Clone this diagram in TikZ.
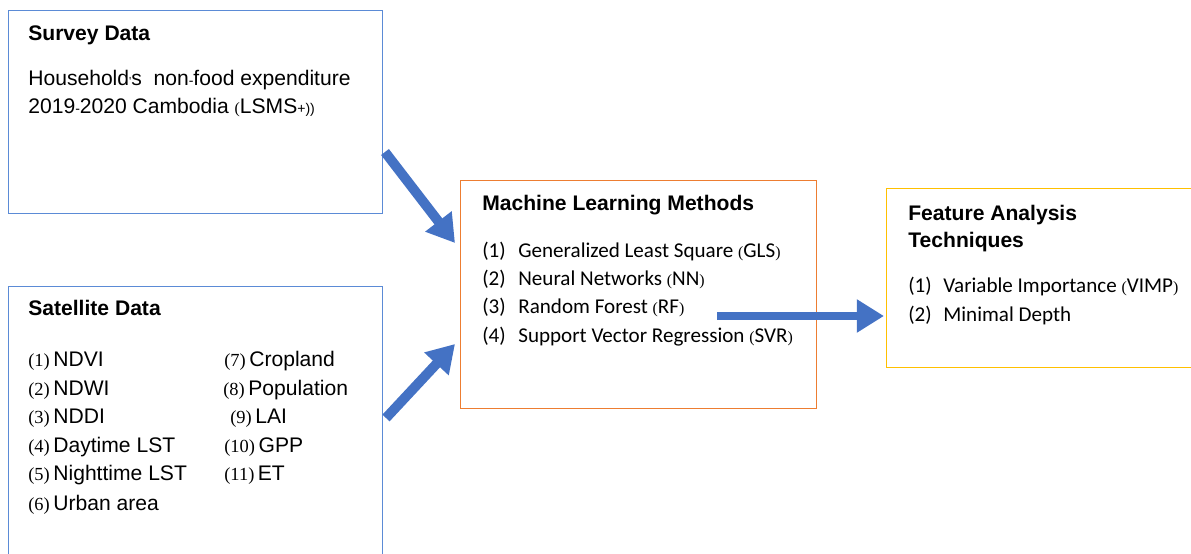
\documentclass[tikz,border=0pt]{standalone}
\usepackage{fontspec}
\setmainfont{Liberation Sans}
\newfontfamily\calibri{Carlito}
\newfontfamily\timesf{Liberation Serif}
\usetikzlibrary{arrows.meta,positioning}

\definecolor{boxblue}{HTML}{5B8BD6}
\definecolor{arrowblue}{HTML}{4472C4}
\definecolor{mlorange}{HTML}{ED7D31}
\definecolor{fayellow}{HTML}{FFC000}

\tikzset{
	panel/.style={draw=#1, line width=0.75pt, anchor=north west, inner sep=0pt},
	title/.style={anchor=base west, inner sep=0pt, font=\bfseries\fontsize{12}{14}\selectfont},
	body/.style={anchor=base west, inner sep=0pt, font=\fontsize{12}{14}\selectfont},
	item/.style={anchor=base west, inner sep=0pt, font=\calibri\fontsize{12}{14}\selectfont},
	bigarrow/.style={arrowblue, line width=5.6pt, -{Triangle[length=15.5pt,width=18pt]}}
}
\newcommand{\numpar}[1]{{\timesf\fontsize{10.5}{12}\selectfont(#1)}}
\newcommand{\abbrpar}[1]{{\timesf\fontsize{9}{10}\selectfont(}#1{\timesf\fontsize{9}{10}\selectfont)}}

\begin{document}
\begin{tikzpicture}[x=0.02cm, y=-0.02cm]
		\useasboundingbox (0,0) rectangle (1191,554);
		\clip (0,0) rectangle (1191,554);

		% boxes
		\node[panel=boxblue, minimum width=7.48cm, minimum height=4.06cm] at (8,10) (survey) {};
		\node[panel=boxblue, minimum width=7.48cm, minimum height=6.4cm] at (8,286) (sat) {};
		\node[panel=mlorange, minimum width=7.12cm, minimum height=4.56cm] at (460,180) (ml) {};
		\node[panel=fayellow, minimum width=6.8cm, minimum height=3.58cm] at (886,188) (fa) {};

		% survey data
		\node[title] at (28,41) (surveyt) {Survey Data};
		\node[body] at (28,86) (surveyl1) {Household{\timesf\fontsize{7}{8}\selectfont'}s\ \ non{\fontsize{8}{9}\selectfont-}food expenditure};
		\node[body] at (28,114) (surveyl2) {2019{\fontsize{8}{9}\selectfont-}2020 Cambodia {\timesf\fontsize{9}{10}\selectfont(}LSMS{\fontsize{8}{9}\selectfont+))}};

		% satellite data
		\node[title] at (28,316) (satt) {Satellite Data};
		\node[body] at (28,366) (s1) {\numpar{1}\,NDVI};
		\node[body] at (28,395) (s2) {\numpar{2}\,NDWI};
		\node[body] at (28,423) (s3) {\numpar{3}\,NDDI};
		\node[body] at (28,452) (s4) {\numpar{4}\,Daytime LST};
		\node[body] at (28,480) (s5) {\numpar{5}\,Nighttime LST};
		\node[body] at (28,510) (s6) {\numpar{6}\,Urban area};
		\node[body] at (224,366) (s7) {\numpar{7}\,Cropland};
		\node[body] at (223,395) (s8) {\numpar{8}\,Population};
		\node[body] at (230,423) (s9) {\numpar{9}\,LAI};
		\node[body] at (224,452) (s10) {\numpar{10}\,GPP};
		\node[body] at (224,480) (s11) {\numpar{11}\,ET};

		% machine learning methods
		\node[title] at (482,211) (mlt) {Machine Learning Methods};
		\node[item] at (482,257) (m1n) {(1)};
		\node[item] at (518,257) (m1) {Generalized Least Square \abbrpar{GLS}};
		\node[item] at (482,285) (m2n) {(2)};
		\node[item] at (518,285) (m2) {Neural Networks \abbrpar{NN}};
		\node[item] at (482,313) (m3n) {(3)};
		\node[item] at (518,313) (m3) {Random Forest \abbrpar{RF}};
		\node[item] at (482,342) (m4n) {(4)};
		\node[item] at (518,342) (m4) {Support Vector Regression \abbrpar{SVR}};

		% feature analysis
		\node[title] at (908,220) (fat1) {Feature Analysis};
		\node[title] at (908,248) (fat2) {Techniques};
		\node[item] at (908,292) (f1n) {(1)};
		\node[item] at (943,292) (f1) {Variable Importance \abbrpar{VIMP}};
		\node[item] at (908,321) (f2n) {(2)};
		\node[item] at (943,321) (f2) {Minimal Depth};

		% arrows
		\coordinate (a1s) at (385,152);
		\coordinate (a1e) at (455,243);
		\coordinate (a2s) at (386,418);
		\coordinate (a2e) at (455,344);
		\coordinate (a3s) at (717,316);
		\coordinate (a3e) at (884,316);
		\draw[bigarrow] (a1s) -- (a1e);
		\draw[bigarrow] (a2s) -- (a2e);
		\draw[bigarrow, line width=5pt] (a3s) -- (a3e);

	\end{tikzpicture}
\end{document}
